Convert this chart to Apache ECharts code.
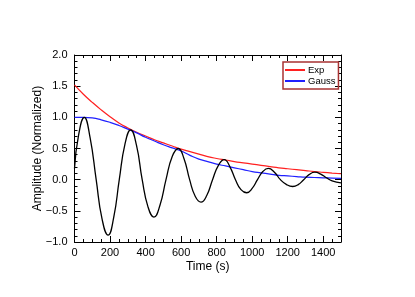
<!DOCTYPE html>
<html>
<head>
<meta charset="utf-8">
<script src="https://cdn.jsdelivr.net/npm/echarts@6/dist/echarts.min.js"></script>
<style>html,body{margin:0;padding:0;background:#fff;}#c{width:415px;height:297px;}</style>
</head>
<body>
<div id="c"></div>
<script>
// Signal (black) sample times and values
var sigTime = [0,22,55,88,122,155,189,221,252,284,316,349,381,414,447,481,515,550,584,616,648,680,712,745,777,810,843,874,906,937,969,1000,1030,1060,1091,1125,1159,1194,1228,1259,1290,1322,1353,1386,1418,1450,1500];
var sigAmp  = [0.18,0.70,1.00,0.67,0.00,-0.63,-0.89,-0.60,0.00,0.57,0.80,0.55,0.00,-0.44,-0.60,-0.41,0.00,0.37,0.50,0.34,0.00,-0.27,-0.36,-0.25,0.00,0.23,0.32,0.21,0.00,-0.16,-0.21,-0.14,0.00,0.13,0.18,0.12,0.00,-0.08,-0.11,-0.08,0.00,0.085,0.12,0.09,0.03,-0.02,-0.05];
// Envelope sample times and values
var envTime = [0,50,100,150,200,250,300,350,400,450,500,550,600,650,700,750,800,850,900,950,1000,1050,1100,1150,1200,1250,1300,1350,1400,1450,1500];
var expVals = [1.52,1.37,1.24,1.12,1.01,0.91,0.83,0.76,0.70,0.64,0.59,0.54,0.49,0.45,0.41,0.37,0.34,0.315,0.29,0.27,0.25,0.23,0.21,0.19,0.175,0.16,0.145,0.13,0.118,0.106,0.095];
var gaussVals = [1.0,1.0,0.99,0.96,0.92,0.87,0.81,0.75,0.68,0.62,0.56,0.51,0.46,0.39,0.33,0.29,0.25,0.22,0.19,0.16,0.13,0.11,0.09,0.07,0.06,0.05,0.04,0.035,0.03,0.025,0.02];
var legendNames = ['Exp','Gauss'];
var xTitle = 'Time (s)';
var yTitle = 'Amplitude (Normalized)';

function pairs(xs, ys){ return xs.map(function(x,i){ return [x, ys[i]]; }); }

var FONT = 'Liberation Sans';
function ax(extra, minorSplit){
  return Object.assign({
    type: 'value',
    axisLine: { show: true, onZero: false, lineStyle: { color: '#000', width: 1 } },
    axisTick: { show: true, inside: true, length: 6, lineStyle: { color: '#000', width: 1 } },
    minorTick: { show: true, splitNumber: minorSplit, length: 3, lineStyle: { color: '#000', width: 1 } },
    splitLine: { show: false },
    minorSplitLine: { show: false }
  }, extra);
}

var chart = echarts.init(document.getElementById('c'), null, { renderer: 'canvas' });
chart.setOption({
  animation: false,
  backgroundColor: '#fff',
  grid: { left: 74.5, right: 74, top: 55, bottom: 55 },
  legend: {
    data: legendNames,
    orient: 'vertical',
    left: 283, top: 62,
    itemWidth: 20, itemHeight: 2, itemGap: 1,
    icon: 'rect',
    padding: [3, 3, 3, 2],
    borderColor: '#a83232', borderWidth: 1.5,
    textStyle: { fontFamily: FONT, fontSize: 9.5, color: '#000', padding: [0,0,0,-2] }
  },
  xAxis: [
    ax({ min: 0, max: 1500, interval: 200,
      name: xTitle, nameLocation: 'middle', nameGap: 19, nameMoveOverlap: false,
      nameTextStyle: { fontFamily: FONT, fontSize: 12, color: '#000' },
      axisLabel: { fontFamily: FONT, fontSize: 11, color: '#000', margin: 5, showMaxLabel: false,
        formatter: function(v){ return String(v); } } }, 4),
    ax({ position: 'top', min: 0, max: 1500, interval: 200, axisLabel: { show: false } }, 4)
  ],
  yAxis: [
    ax({ min: -1, max: 2, interval: 0.5,
      name: yTitle, nameLocation: 'middle', nameGap: 31, nameMoveOverlap: false,
      nameTextStyle: { fontFamily: FONT, fontSize: 12, color: '#000' },
      axisLabel: { fontFamily: FONT, fontSize: 11, color: '#000', margin: 7,
        formatter: function(v){ return v.toFixed(1).replace('-', '\u2212'); } } }, 5),
    ax({ position: 'right', min: -1, max: 2, interval: 0.5, axisLabel: { show: false } }, 5)
  ],
  series: [
    { name: 'Signal', type: 'line', data: pairs(sigTime, sigAmp), smooth: 0.5, showSymbol: false, symbol: 'none',
      lineStyle: { color: '#000', width: 1.3 }, itemStyle: { color: '#000' }, z: 3 },
    { name: 'Exp', type: 'line', data: pairs(envTime, expVals), smooth: true, showSymbol: false, symbol: 'none',
      lineStyle: { color: '#ff2020', width: 1.2 }, itemStyle: { color: '#ff2020' }, z: 2 },
    { name: 'Gauss', type: 'line', data: pairs(envTime, gaussVals), smooth: true, showSymbol: false, symbol: 'none',
      lineStyle: { color: '#2020ff', width: 1.2 }, itemStyle: { color: '#2020ff' }, z: 2 }
  ]
});
</script>
</body>
</html>
